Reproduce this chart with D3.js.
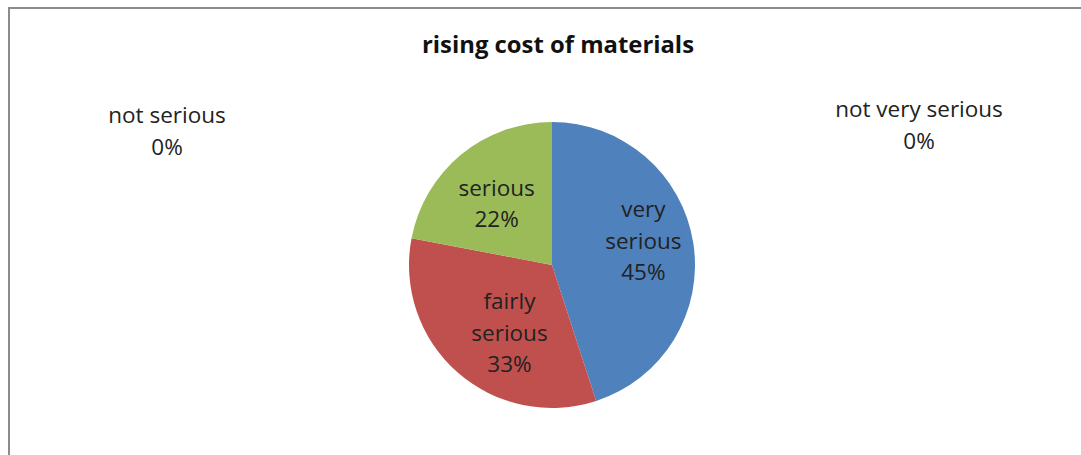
<!DOCTYPE html>
<html>
<head>
<meta charset="utf-8">
<script src="https://cdn.jsdelivr.net/npm/d3@7"></script>
<style>
  html, body { margin: 0; padding: 0; background: #fff; }
  svg { display: block; }
  text { font-family: "Open Sans", "Noto Sans", sans-serif; fill: #222; }
</style>
</head>
<body>
<svg id="chart" width="1081" height="455"></svg>
<script>
// ---- data ----
const title = "rising cost of materials";
const categories = ["very serious", "fairly serious", "serious", "not serious", "not very serious"];
const values = [45, 33, 22, 0, 0];
const colors = ["#4f81bd", "#c0504d", "#9bbb59", "#8064a2", "#4bacc6"];

// ---- layout ----
const W = 1081, H = 455;
const cx = 552, cy = 265, R = 143;
const svg = d3.select("#chart");

// frame (left + top border, rest cropped)
svg.append("path")
  .attr("d", `M9,${H} V8 H${W}`)
  .attr("fill", "none")
  .attr("stroke", "#8c8c8c")
  .attr("stroke-width", 2);

svg.append("text")
  .attr("x", 558).attr("y", 53)
  .attr("text-anchor", "middle")
  .attr("font-size", 23.5)
  .attr("font-weight", "bold")
  .attr("textLength", 272)
  .attr("lengthAdjust", "spacingAndGlyphs")
  .style("fill", "#111")
  .text(title);

const data = categories.map((c, i) => ({ cat: c, value: values[i], color: colors[i] }));

const pie = d3.pie().sort(null).value(d => d.value);
const arcs = pie(data);
const arc = d3.arc().innerRadius(0).outerRadius(R);

const g = svg.append("g").attr("transform", `translate(${cx},${cy})`);
g.selectAll("path.slice")
  .data(arcs.filter(a => a.data.value > 0))
  .join("path")
  .attr("class", "slice")
  .attr("d", arc)
  .attr("fill", d => d.data.color);

// inside labels (best-fit placement nudges)
const labelArc = d3.arc().innerRadius(R * 0.64).outerRadius(R * 0.64);
const lineH = 31.5;
const fs = 22.5;
const insideWords = {
  "very serious": ["very", "serious"],
  "fairly serious": ["fairly", "serious"],
  "serious": ["serious"]
};
const nudge = { "very serious": [1, -10], "fairly serious": [18, -1], "serious": [3, 9] };
arcs.filter(a => a.data.value > 0).forEach(a => {
  const c = labelArc.centroid(a);
  const n = nudge[a.data.cat];
  const x = c[0] + n[0], y = c[1] + n[1];
  const lines = insideWords[a.data.cat].concat([a.data.value + "%"]);
  const t = g.append("text")
    .attr("text-anchor", "middle")
    .attr("font-size", fs);
  const y0 = y - (lines.length - 1) * lineH / 2 + fs * 0.35;
  lines.forEach((ln, i) => {
    t.append("tspan").attr("x", x).attr("y", y0 + i * lineH).text(ln);
  });
});

// zero-value labels placed outside by the chart layout
const outsidePos = { "not serious": [167, 123], "not very serious": [919, 117] };
arcs.filter(a => a.data.value === 0).forEach(a => {
  const [x, y] = outsidePos[a.data.cat];
  const t = svg.append("text").attr("text-anchor", "middle").attr("font-size", fs);
  t.append("tspan").attr("x", x).attr("y", y).text(a.data.cat);
  t.append("tspan").attr("x", x).attr("y", y + lineH).text(a.data.value + "%");
});
</script>
</body>
</html>
